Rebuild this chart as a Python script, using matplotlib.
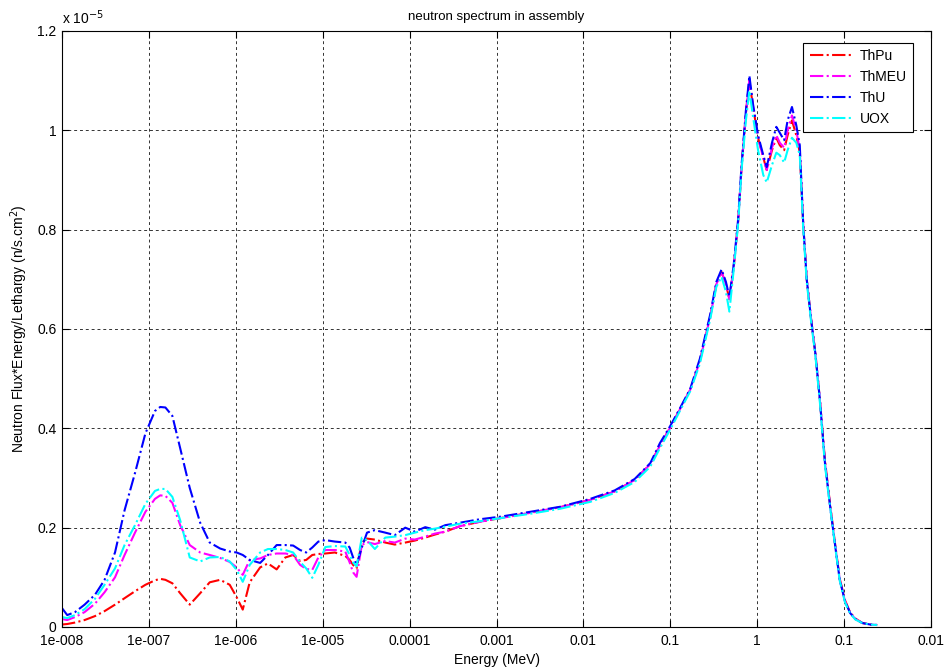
import numpy as np
import matplotlib
matplotlib.use("Agg")
import matplotlib.pyplot as plt

plt.rcParams['font.family'] = ['Liberation Sans', 'DejaVu Sans']

# log10 of the neutron energy (MeV) for each lethargy group
log_energy = [
    -8.00, -7.94, -7.85, -7.74, -7.62, -7.51, -7.39, -7.28, -7.16, -7.04,
    -6.93, -6.87, -6.81, -6.73, -6.64, -6.53, -6.41, -6.30, -6.18, -6.07,
    -5.99, -5.92, -5.84, -5.72, -5.63, -5.53, -5.43, -5.34, -5.26, -5.19,
    -5.12, -5.05, -4.97, -4.86, -4.74, -4.69, -4.65, -4.61, -4.55, -4.49,
    -4.40, -4.28, -4.17, -4.05, -3.94, -3.82, -3.71, -3.59, -3.42, -3.19,
    -2.96, -2.61, -2.27, -1.92, -1.64, -1.41, -1.23, -1.12, -1.00, -0.89,
    -0.77, -0.66, -0.54, -0.47, -0.41, -0.36, -0.32, -0.27, -0.22, -0.18,
    -0.13, -0.09, -0.05, 0.01, 0.07, 0.11, 0.17, 0.22, 0.26, 0.31,
    0.35, 0.40, 0.45, 0.49, 0.53, 0.57, 0.62, 0.67, 0.72, 0.78,
    0.84, 0.90, 0.95, 1.01, 1.07, 1.13, 1.21, 1.30, 1.38,
]

# flux * energy / lethargy, in units of 1e-5 n/s.cm^2
flux_thpu = [
    0.005, 0.006, 0.009, 0.014, 0.022, 0.032, 0.045, 0.058, 0.072, 0.085,
    0.094, 0.097, 0.095, 0.088, 0.068, 0.045, 0.068, 0.090, 0.095, 0.085,
    0.060, 0.035, 0.090, 0.120, 0.128, 0.116, 0.140, 0.145, 0.133, 0.135,
    0.145, 0.147, 0.148, 0.150, 0.143, 0.135, 0.125, 0.118, 0.170, 0.178,
    0.176, 0.170, 0.166, 0.170, 0.174, 0.180, 0.186, 0.192, 0.203, 0.212,
    0.219, 0.230, 0.241, 0.256, 0.273, 0.296, 0.328, 0.365, 0.402, 0.438,
    0.478, 0.535, 0.625, 0.690, 0.715, 0.690, 0.660, 0.725, 0.815, 0.925,
    1.035, 1.100, 1.050, 0.985, 0.945, 0.920, 0.960, 0.985, 0.970, 0.960,
    0.990, 1.020, 0.990, 0.955, 0.810, 0.700, 0.620, 0.550, 0.460, 0.335,
    0.245, 0.162, 0.097, 0.054, 0.029, 0.017, 0.008, 0.005, 0.004,
]
flux_thmeu = [
    0.016, 0.014, 0.020, 0.030, 0.047, 0.070, 0.100, 0.145, 0.190, 0.232,
    0.258, 0.265, 0.264, 0.250, 0.205, 0.165, 0.150, 0.145, 0.139, 0.131,
    0.120, 0.105, 0.135, 0.138, 0.145, 0.148, 0.148, 0.145, 0.125, 0.117,
    0.115, 0.140, 0.155, 0.155, 0.152, 0.130, 0.110, 0.101, 0.165, 0.171,
    0.167, 0.173, 0.170, 0.178, 0.176, 0.182, 0.188, 0.192, 0.203, 0.212,
    0.219, 0.230, 0.241, 0.256, 0.273, 0.296, 0.328, 0.365, 0.402, 0.438,
    0.478, 0.535, 0.625, 0.690, 0.715, 0.690, 0.660, 0.725, 0.815, 0.925,
    1.035, 1.100, 1.050, 0.985, 0.945, 0.920, 0.965, 0.990, 0.975, 0.965,
    1.000, 1.030, 1.000, 0.960, 0.810, 0.700, 0.620, 0.550, 0.460, 0.330,
    0.242, 0.160, 0.095, 0.052, 0.028, 0.016, 0.008, 0.005, 0.004,
]
flux_thu = [
    0.038, 0.024, 0.030, 0.045, 0.065, 0.095, 0.150, 0.235, 0.310, 0.390,
    0.435, 0.443, 0.442, 0.425, 0.360, 0.280, 0.210, 0.170, 0.158, 0.152,
    0.150, 0.145, 0.135, 0.129, 0.145, 0.165, 0.165, 0.164, 0.155, 0.150,
    0.160, 0.172, 0.175, 0.172, 0.170, 0.160, 0.140, 0.125, 0.160, 0.190,
    0.195, 0.190, 0.185, 0.200, 0.192, 0.201, 0.196, 0.205, 0.210, 0.217,
    0.222, 0.232, 0.242, 0.258, 0.275, 0.298, 0.330, 0.370, 0.405, 0.440,
    0.480, 0.540, 0.630, 0.695, 0.720, 0.695, 0.665, 0.730, 0.820, 0.930,
    1.040, 1.110, 1.055, 0.990, 0.950, 0.926, 0.975, 1.007, 0.995, 0.980,
    1.020, 1.047, 1.010, 0.970, 0.810, 0.700, 0.620, 0.550, 0.460, 0.330,
    0.242, 0.160, 0.095, 0.052, 0.028, 0.016, 0.008, 0.005, 0.004,
]
flux_uox = [
    0.020, 0.018, 0.024, 0.036, 0.057, 0.085, 0.118, 0.165, 0.205, 0.248,
    0.274, 0.278, 0.278, 0.262, 0.215, 0.140, 0.132, 0.140, 0.141, 0.132,
    0.115, 0.091, 0.125, 0.150, 0.157, 0.157, 0.155, 0.150, 0.131, 0.118,
    0.099, 0.125, 0.161, 0.163, 0.162, 0.145, 0.130, 0.122, 0.180, 0.175,
    0.157, 0.180, 0.182, 0.185, 0.190, 0.195, 0.198, 0.202, 0.208, 0.213,
    0.219, 0.228, 0.238, 0.252, 0.270, 0.292, 0.323, 0.360, 0.398, 0.435,
    0.475, 0.530, 0.620, 0.685, 0.705, 0.675, 0.635, 0.720, 0.810, 0.920,
    1.020, 1.080, 1.030, 0.960, 0.910, 0.895, 0.930, 0.955, 0.950, 0.935,
    0.960, 0.985, 0.975, 0.950, 0.800, 0.695, 0.615, 0.545, 0.455, 0.325,
    0.240, 0.158, 0.093, 0.050, 0.027, 0.015, 0.008, 0.005, 0.004,
]

series_names = ['ThPu', 'ThMEU', 'ThU', 'UOX']
series_colors = ['#FF0000', '#FF00FF', '#0000FF', '#00FFFF']

tick_exponents = list(range(-8, 3))
tick_labels = ['1e-008', '1e-007', '1e-006', '1e-005', '0.0001', '0.001',
               '0.01', '0.1', '1', '0.1', '0.01']
y_ticks = [0, 0.2, 0.4, 0.6, 0.8, 1.0, 1.2]
y_tick_labels = ['0', '0.2', '0.4', '0.6', '0.8', '1', '1.2']

FS = 10

energy = 10.0 ** np.array(log_energy)

fig = plt.figure(figsize=(9.46, 6.69), dpi=100)
ax = fig.add_axes([62 / 946, 42 / 669, 869 / 946, 596 / 669])

for name, color, vals in zip(series_names, series_colors,
                             [flux_thpu, flux_thmeu, flux_thu, flux_uox]):
    ax.plot(energy, vals, linestyle='-.', color=color, lw=1.5, label=name)

ax.set_xscale('log')
ax.set_xlim(1e-8, 1e2)
ax.set_ylim(0, 1.2)
ax.set_xticks([10.0 ** k for k in tick_exponents])
ax.set_xticklabels(tick_labels)
ax.xaxis.set_minor_locator(matplotlib.ticker.NullLocator())
ax.set_yticks(y_ticks)
ax.set_yticklabels(y_tick_labels)

ax.tick_params(direction='in', length=5, width=0.8, top=True, right=True,
               labelsize=FS, colors='black')
ax.tick_params(axis='x', pad=5)
ax.tick_params(axis='y', pad=4)
ax.grid(True, which='major', color='#333333', linestyle=(0, (3, 3)), lw=0.7)
for sp in ax.spines.values():
    sp.set_linewidth(0.8)
    sp.set_color('black')

ax.set_xlabel('Energy (MeV)', fontsize=FS)
ax.xaxis.set_label_coords(0.5, -0.044)
ax.set_ylabel(r'Neutron Flux*Energy/Lethargy (n/s.cm$^2$)', fontsize=FS)
ax.yaxis.set_label_coords(-0.037, 0.5)
ax.set_title('neutron spectrum in assembly', fontsize=FS * 0.95, pad=8)
ax.text(0.0, 1.012, r'x 10$^{-5}$', transform=ax.transAxes, fontsize=FS,
        ha='left', va='baseline')

leg = ax.legend(loc='upper right', bbox_to_anchor=(0.9793, 0.9799),
                borderaxespad=0, fontsize=FS, fancybox=False, framealpha=1,
                edgecolor='black', handlelength=3.2, handletextpad=0.4,
                borderpad=0.45, labelspacing=0.5)
leg.get_frame().set_linewidth(0.8)

fig.savefig('out.png', dpi=100)
